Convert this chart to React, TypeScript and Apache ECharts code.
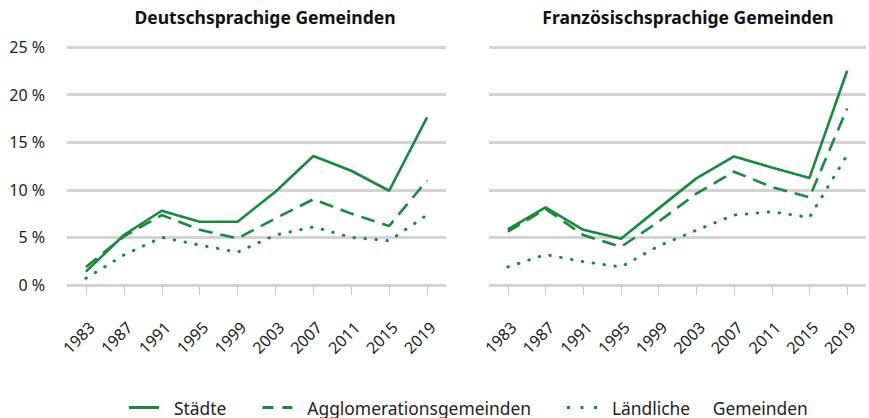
import React, { useEffect, useRef } from "react";
import * as echarts from "echarts";

const years = ["1983", "1987", "1991", "1995", "1999", "2003", "2007", "2011", "2015", "2019"];
const deStaedte = [1.4, 5.25, 7.8, 6.65, 6.65, 9.8, 13.55, 12.0, 9.9, 17.6];
const deAgglo = [1.9, 5.1, 7.35, 5.8, 4.9, 7.0, 9.0, 7.5, 6.2, 11.0];
const deLand = [0.7, 3.15, 5.0, 4.2, 3.45, 5.25, 6.1, 5.0, 4.65, 7.35];
const frStaedte = [5.85, 8.15, 5.8, 4.85, 8.05, 11.2, 13.5, 12.35, 11.25, 22.5];
const frAgglo = [5.6, 8.0, 5.25, 4.0, 6.65, 9.6, 11.9, 10.3, 9.2, 18.55];
const frLand = [1.9, 3.2, 2.45, 1.9, 4.1, 5.75, 7.35, 7.7, 7.1, 13.65];
const panelTitles = ["Deutschsprachige Gemeinden", "Französischsprachige Gemeinden"];
const seriesNames = ["Städte", "Agglomerationsgemeinden", "Ländliche     Gemeinden"];
const yTicks = { min: 0, max: 25, interval: 5 };

const GREEN = "#178a3c";
const FONT = "Noto Sans";

const legendIcons = [
  "path://M0,0h30v3h-30z",
  "path://M0,0h11v3h-11zM20,0h10v3h-10z",
  "path://M0,0h3v3h-3zM13.5,0h3v3h-3zM27,0h3v3h-3z",
];

export default function App() {
  const ref = useRef<HTMLDivElement>(null);
  useEffect(() => {
    if (!ref.current) return;
    const chart = echarts.init(ref.current, null, { renderer: "svg" });
    const dashTypes: any[] = ["solid", [14, 8], [0.5, 10.5]];
    const panels = [
      [deStaedte, deAgglo, deLand],
      [frStaedte, frAgglo, frLand],
    ];
    const series: any[] = [];
    panels.forEach((vals, gi) => {
      vals.forEach((d, si) => {
        series.push({
          type: "line",
          name: seriesNames[si],
          xAxisIndex: gi,
          yAxisIndex: gi,
          data: d,
          symbol: "none",
          color: GREEN,
          lineStyle: {
            color: GREEN,
            width: si === 2 ? 3 : 2.6,
            type: dashTypes[si],
            cap: si === 2 ? "round" : "butt",
          },
          z: 3 - si,
        });
      });
    });
    const xAxisCommon = {
      type: "category",
      data: years,
      boundaryGap: true,
      offset: 13,
      axisLine: { show: false },
      axisTick: { show: true, alignWithLabel: true, length: 10, lineStyle: { color: "#c8c8c8", width: 1 } },
      axisLabel: {
        rotate: 45,
        margin: 21,
        fontSize: 16,
        color: "#222",
        fontFamily: FONT,
        interval: 0,
        verticalAlign: "top",
      },
      splitLine: { show: false },
    };
    const yAxisCommon = {
      type: "value",
      ...yTicks,
      axisLine: { show: false },
      axisTick: { show: false },
      splitLine: { show: true, lineStyle: { color: "#d6d2d2", width: 3 } },
    };
    chart.setOption({
      animation: false,
      grid: [
        { left: 67, width: 379, top: 47, bottom: 133 },
        { left: 489, width: 377, top: 47, bottom: 133 },
      ],
      xAxis: [
        { ...xAxisCommon, gridIndex: 0 },
        { ...xAxisCommon, gridIndex: 1 },
      ],
      yAxis: [
        {
          ...yAxisCommon,
          gridIndex: 0,
          axisLabel: { formatter: "{value} %", fontSize: 16, color: "#222", fontFamily: FONT, margin: 22 },
        },
        { ...yAxisCommon, gridIndex: 1, axisLabel: { show: false } },
      ],
      legend: {
        data: seriesNames.map((n, i) => ({ name: n, icon: legendIcons[i], itemStyle: { color: GREEN, borderWidth: 0 } })),
        left: 124,
        top: 394,
        itemWidth: 30,
        itemHeight: 3,
        itemGap: 36,
        textStyle: { fontSize: 17.4, color: "#222", fontFamily: FONT, padding: [0, 0, 0, 10] },
      },
      graphic: [
        {
          type: "text",
          x: 265,
          y: 16.5,
          style: {
            text: panelTitles[0],
            fontSize: 17.5,
            fontWeight: "bold",
            fill: "#111",
            fontFamily: FONT,
            align: "center",
            verticalAlign: "middle",
          },
        },
        {
          type: "text",
          x: 688,
          y: 16.5,
          style: {
            text: panelTitles[1],
            fontSize: 17.5,
            fontWeight: "bold",
            fill: "#111",
            fontFamily: FONT,
            align: "center",
            verticalAlign: "middle",
          },
        },
      ],
      series,
    });
    return () => chart.dispose();
  }, []);
  return (
    <div
      ref={ref}
      style={{ position: "absolute", left: 0, top: 0, width: 869, height: 418, background: "#fff" }}
    />
  );
}
